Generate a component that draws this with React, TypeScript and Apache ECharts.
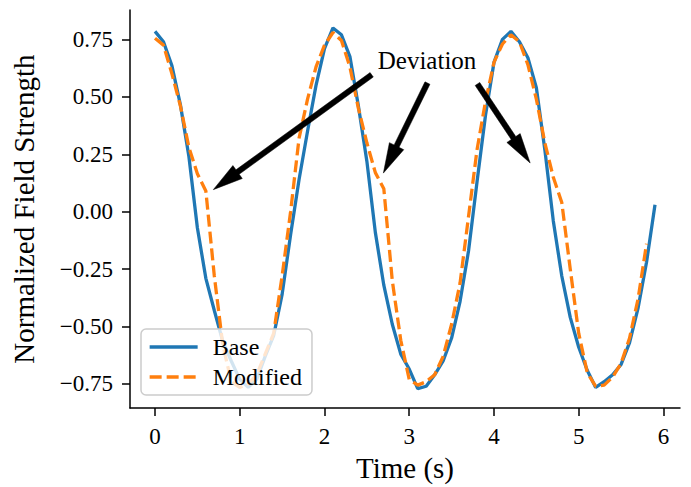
import React, { useEffect, useRef } from "react";
import * as echarts from "echarts";

const baseTime = [
  0, 0.1, 0.2, 0.3, 0.4, 0.5, 0.6, 0.7, 0.8, 0.9,
  1.0, 1.1, 1.2, 1.3, 1.4, 1.5, 1.6, 1.7, 1.8, 1.9,
  2.0, 2.1, 2.2, 2.3, 2.4, 2.5, 2.6, 2.7, 2.8, 2.9,
  3.0, 3.1, 3.2, 3.3, 3.4, 3.5, 3.6, 3.7, 3.8, 3.9,
  4.0, 4.1, 4.2, 4.3, 4.4, 4.5, 4.6, 4.7, 4.8, 4.9,
  5.0, 5.1, 5.2, 5.3, 5.4, 5.5, 5.6, 5.7, 5.8, 5.9,
];

const baseValues = [
  0.785, 0.74, 0.635, 0.465, 0.24, -0.07, -0.29, -0.43, -0.565, -0.65,
  -0.73, -0.765, -0.73, -0.63, -0.54, -0.36, -0.1, 0.14, 0.35, 0.55,
  0.71, 0.8, 0.77, 0.675, 0.46, 0.22, -0.09, -0.32, -0.49, -0.62,
  -0.685, -0.77, -0.76, -0.71, -0.65, -0.55, -0.39, -0.17, 0.13, 0.42,
  0.65, 0.75, 0.785, 0.74, 0.67, 0.54, 0.27, -0.04, -0.28, -0.46,
  -0.59, -0.69, -0.765, -0.74, -0.71, -0.665, -0.57, -0.42, -0.22, 0.03,
];

const modifiedTime = [
  0, 0.1, 0.2, 0.3, 0.4, 0.5, 0.6, 0.7, 0.8, 0.9,
  1.0, 1.1, 1.2, 1.3, 1.4, 1.5, 1.6, 1.7, 1.8, 1.9,
  2.0, 2.1, 2.2, 2.3, 2.4, 2.5, 2.6, 2.7, 2.8, 2.9,
  3.0, 3.1, 3.2, 3.3, 3.4, 3.5, 3.6, 3.7, 3.8, 3.9,
  4.0, 4.1, 4.2, 4.3, 4.4, 4.5, 4.6, 4.7, 4.8, 4.9,
  5.0, 5.1, 5.2, 5.3, 5.4, 5.5, 5.6, 5.7, 5.8,
];

const modifiedValues = [
  0.755, 0.725, 0.6, 0.46, 0.28, 0.165, 0.09, -0.28, -0.58, -0.74,
  -0.765, -0.75, -0.71, -0.62, -0.53, -0.28, 0.0, 0.32, 0.49, 0.63,
  0.725, 0.78, 0.745, 0.63, 0.45, 0.3, 0.17, 0.1, -0.3, -0.56,
  -0.73, -0.755, -0.74, -0.71, -0.63, -0.49, -0.31, -0.02, 0.27, 0.48,
  0.65, 0.73, 0.77, 0.74, 0.64, 0.49, 0.3, 0.15, 0.04, -0.25,
  -0.53, -0.7, -0.76, -0.755, -0.72, -0.66, -0.55, -0.38, -0.14,
];

const xTicks = [0, 1, 2, 3, 4, 5, 6];
const yTicks = [-0.75, -0.5, -0.25, 0, 0.25, 0.5, 0.75];

const annotationText = "Deviation";
const annotationTextPos = [3.21, 0.66];
const arrowStarts = [
  [2.557, 0.596],
  [3.215, 0.56],
  [3.805, 0.556],
];
const arrowTips = [
  [0.688, 0.096],
  [2.695, 0.168],
  [4.427, 0.212],
];

const FONT = "'Liberation Serif', 'Times New Roman', serif";

function arrowPolygon(s: number[], t: number[], shaftW: number, headW: number, headL: number) {
  const dx = t[0] - s[0];
  const dy = t[1] - s[1];
  const len = Math.sqrt(dx * dx + dy * dy) || 1;
  const ux = dx / len;
  const uy = dy / len;
  const nx = -uy;
  const ny = ux;
  const hx = t[0] - ux * headL;
  const hy = t[1] - uy * headL;
  const sw = shaftW / 2;
  const hw = headW / 2;
  return [
    [s[0] + nx * sw, s[1] + ny * sw],
    [hx + nx * sw, hy + ny * sw],
    [hx + nx * hw, hy + ny * hw],
    [t[0], t[1]],
    [hx - nx * hw, hy - ny * hw],
    [hx - nx * sw, hy - ny * sw],
    [s[0] - nx * sw, s[1] - ny * sw],
  ];
}

export default function App() {
  const ref = useRef<HTMLDivElement>(null);

  useEffect(() => {
    if (!ref.current) return;
    const chart = echarts.init(ref.current, undefined, { renderer: "svg" });
    const option: any = {
      animation: false,
      backgroundColor: "#ffffff",
      grid: { left: 130, top: 10, right: 11, bottom: 78, containLabel: false },
      xAxis: {
        type: "value",
        min: -0.295,
        max: 6.195,
        name: "Time (s)",
        nameLocation: "middle",
        nameGap: 43,
        nameTextStyle: { fontFamily: FONT, fontSize: 29, color: "#000" },
        axisLine: { show: true, onZero: false, lineStyle: { color: "#000", width: 1.5 } },
        axisTick: { show: true, length: 8, customValues: xTicks, lineStyle: { color: "#000", width: 1.5 } },
        axisLabel: {
          customValues: xTicks,
          margin: 17,
          fontFamily: FONT,
          fontSize: 23,
          color: "#000",
          formatter: (v: number) => String(v),
        },
        splitLine: { show: false },
      },
      yAxis: {
        type: "value",
        min: -0.855,
        max: 0.878,
        name: "Normalized Field Strength",
        nameLocation: "middle",
        nameGap: 92,
        nameTextStyle: { fontFamily: FONT, fontSize: 29, color: "#000" },
        axisLine: { show: true, onZero: false, lineStyle: { color: "#000", width: 1.5 } },
        axisTick: { show: true, length: 8, customValues: yTicks, lineStyle: { color: "#000", width: 1.5 } },
        axisLabel: {
          customValues: yTicks,
          margin: 17,
          fontFamily: FONT,
          fontSize: 23,
          color: "#000",
          formatter: (v: number) => (v < 0 ? "\u2212" : "") + Math.abs(v).toFixed(2),
        },
        splitLine: { show: false },
      },
      legend: {
        data: ["Base", "Modified"],
        orient: "vertical",
        left: 141,
        top: 329,
        itemWidth: 48,
        itemHeight: 14,
        itemGap: 6,
        padding: [6, 10, 6, 7],
        backgroundColor: "rgba(255,255,255,0.8)",
        borderColor: "#cccccc",
        borderWidth: 1.5,
        borderRadius: 5,
        itemStyle: { opacity: 0 },
        lineStyle: { width: 3.3 },
        textStyle: { fontFamily: FONT, fontSize: 24, color: "#000", padding: [0, 0, 0, 10] },
      },
      series: [
        {
          name: "Base",
          type: "line",
          data: baseTime.map((t, i) => [t, baseValues[i]]),
          symbol: "none",
          color: "#1f77b4",
          lineStyle: { color: "#1f77b4", width: 3.3 },
          z: 2,
        },
        {
          name: "Modified",
          type: "line",
          data: modifiedTime.map((t, i) => [t, modifiedValues[i]]),
          symbol: "none",
          color: "#ff7f0e",
          lineStyle: { color: "#ff7f0e", width: 3.3, type: [12, 5] },
          z: 3,
        },
      ],
    };
    chart.setOption(option);

    const toPx = (p: number[]) => chart.convertToPixel({ gridIndex: 0 }, p) as number[];
    const graphics: any[] = [];
    arrowStarts.forEach((s, i) => {
      const sp = toPx(s);
      const tp = toPx(arrowTips[i]);
      graphics.push({
        type: "polygon",
        shape: { points: arrowPolygon(sp, tp, 5.5, 16, 30) },
        style: { fill: "#000", stroke: "#000", lineWidth: 0.5 },
        z: 10,
      });
    });
    const tpos = toPx(annotationTextPos);
    graphics.push({
      type: "text",
      x: tpos[0],
      y: tpos[1],
      style: {
        text: annotationText,
        fontFamily: FONT,
        fontSize: 25,
        fill: "#000",
        align: "center",
        verticalAlign: "middle",
      },
      z: 10,
    });
    chart.setOption({ graphic: graphics });

    return () => chart.dispose();
  }, []);

  return (
    <div
      ref={ref}
      style={{ position: "fixed", left: 0, top: 0, width: 691, height: 487 }}
    />
  );
}
